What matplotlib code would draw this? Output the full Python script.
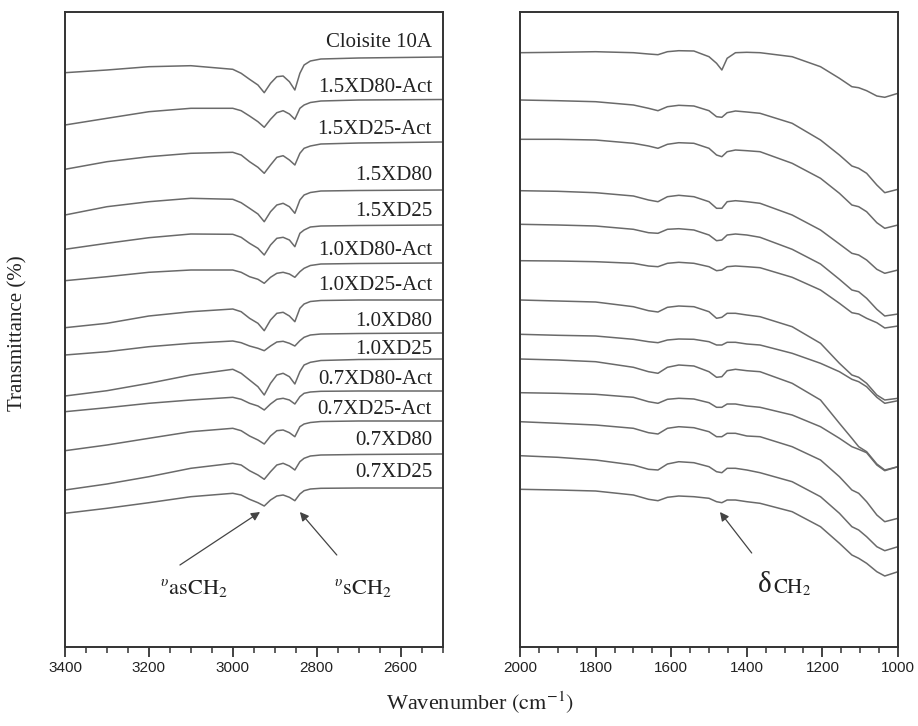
import matplotlib
matplotlib.use("Agg")
import matplotlib.pyplot as plt
from matplotlib.ticker import MultipleLocator

plt.rcParams['font.family'] = ['Liberation Serif', 'DejaVu Serif']
plt.rcParams['mathtext.fontset'] = 'stix'

# ---------------- data (vertical unit = offset level, larger = lower) -------------
labels = ['Cloisite 10A', '1.5XD80-Act', '1.5XD25-Act', '1.5XD80', '1.5XD25',
          '1.0XD80-Act', '1.0XD25-Act', '1.0XD80', '1.0XD25',
          '0.7XD80-Act', '0.7XD25-Act', '0.7XD80', '0.7XD25']

# C-H stretching region (left panel)
wn_left = [3400, 3300, 3200, 3100, 3000, 2980, 2960, 2940, 2925, 2910, 2895, 2880,
           2865, 2852, 2840, 2830, 2815, 2790, 2700, 2500]
L1 = [72.7, 70, 66.7, 65.7, 69.3, 73.3, 79.3, 85, 92.7, 83.3, 76.7, 76, 81.7, 90, 73.3, 65, 61, 59, 58, 57]
L2 = [125, 118.3, 111.7, 108.3, 108.3, 110.7, 116, 121.7, 127.3, 119.3, 112.7, 110.7, 114, 119.3, 108.3, 105, 102.5, 101, 100, 99.5]
L3 = [169.3, 161.7, 156.7, 153.3, 152.3, 155, 161.7, 167.3, 173.3, 165, 157.3, 155.7, 160, 165, 153.3, 148.3, 146, 144, 143, 142]
L4 = [215, 206.7, 201.7, 198.3, 199.3, 202.7, 208.3, 214, 221.7, 211.7, 205, 203.3, 206.7, 213.3, 200, 195, 192.5, 191, 190.5, 190]
L5 = [249.3, 243.3, 237.7, 234, 234.3, 237.3, 243.3, 248.3, 255, 245, 238.3, 237.3, 240, 246.7, 233.3, 230, 227, 226, 225.5, 225]
L6 = [280.7, 276.7, 272.3, 270, 270, 272.3, 276.7, 279.3, 283.3, 277.3, 273.3, 272.3, 274, 277.3, 271.7, 268.3, 265.5, 264, 263.5, 263]
L7 = [327.7, 323.3, 316, 311.7, 309, 311.7, 318.3, 323.3, 330.7, 320, 313.3, 312.3, 316, 321.7, 308.3, 304, 301.5, 300.5, 300, 300]
L8 = [355, 351.7, 346.7, 343.3, 341, 342.7, 346, 348.3, 350.7, 346, 342, 341.3, 343.3, 346, 340.7, 337.3, 335, 334, 333.5, 333]
L9 = [396, 390.7, 383.3, 375, 369.3, 373.3, 380, 386.7, 395, 383.3, 375, 373.3, 376.7, 384, 371.7, 365, 362.3, 360.5, 359.5, 359]
L10 = [411.7, 407.7, 403.3, 400, 397.3, 399.3, 403.3, 406, 410, 404, 399.3, 398.3, 400, 404, 396.7, 393.3, 392, 391.3, 391, 391]
L11 = [450.7, 445, 438.3, 431.7, 428.3, 430.7, 436, 440, 444, 436, 430.7, 430, 432.7, 436.7, 426.7, 424, 422.5, 421.5, 421, 421]
L12 = [490, 484, 476.7, 468.3, 463.3, 465, 470.7, 475, 479.3, 471.7, 465, 463.3, 466, 470, 461.7, 458.3, 456, 455, 454.5, 454]
L13 = [513.3, 508.3, 502.7, 496.7, 493.3, 495, 499.3, 502.7, 506, 500, 496, 495, 497.3, 500.7, 494, 490.7, 489, 488.3, 488, 488]

# fingerprint region (right panel)
wn_right = [2000, 1900, 1800, 1700, 1660, 1635, 1610, 1580, 1540, 1500, 1480, 1466, 1452,
            1430, 1400, 1365, 1280, 1205, 1155, 1122, 1104, 1083, 1056, 1035, 1000]
R1 = [52.7, 52.3, 51.7, 52.7, 54, 54.7, 51.7, 50.7, 51, 56.7, 63.3, 70, 58.3, 52.7, 52.3, 52.7, 56.7, 66.7, 78.3, 86.7, 87.7, 90.7, 96, 97.3, 93.3]
R2 = [100, 100.7, 101.7, 105, 108.3, 110.7, 106.7, 105.3, 106, 110.7, 116.7, 117.3, 112.7, 111, 112, 113.3, 123.3, 140, 155, 166, 168.3, 173.3, 185, 192.7, 189.3]
R3 = [139.3, 139.3, 140, 143.3, 146, 148.3, 144.3, 142.7, 143.3, 148.3, 155, 156.7, 151.7, 150, 150.7, 151.7, 163.3, 178.3, 193.3, 205, 206.7, 211.7, 222.7, 228.3, 225]
R4 = [190.7, 191.3, 192.7, 196, 200, 201.7, 196.7, 195.3, 196.7, 201.7, 208.3, 208.3, 201.7, 200.7, 201.7, 203.3, 215, 230, 244, 253.3, 255, 260, 269.3, 273.3, 270]
R5 = [224.3, 225, 226, 229.3, 232.7, 233.3, 229.3, 228.7, 230, 235, 240.7, 240, 235, 234, 235, 237.3, 249.3, 264, 279.3, 290, 291.7, 298.3, 309.3, 316, 314]
R6 = [260.7, 261, 261.7, 263.3, 266, 266.7, 263.3, 262.3, 263.3, 266.7, 270.7, 270, 266.7, 266, 266.7, 267.7, 277.3, 290, 303.3, 312.7, 314, 318.3, 322.7, 328, 326]
R7 = [300, 301, 302, 306.7, 310.7, 312, 307.3, 306, 306.7, 311.7, 318.3, 317.3, 313.3, 313.3, 315, 316.7, 326.7, 343.3, 363.3, 375, 377.3, 383.3, 395, 400, 398.3]
R8 = [334.3, 335.3, 336, 339.3, 341.7, 342.7, 340, 339, 339.3, 341.7, 345, 345, 342.3, 342.3, 344, 345, 353.3, 363.3, 371.7, 379.3, 381.7, 386.7, 397.3, 403.3, 400.7]
R9 = [359, 360, 361.7, 367.3, 371.7, 373.3, 367.3, 365, 366, 371.7, 377.3, 376.7, 370.7, 369.3, 370.7, 371.7, 383.3, 400, 423.3, 438.3, 446.7, 451.7, 464, 470, 466.7]
R10 = [392.7, 393.3, 394.3, 397.3, 401.7, 403.3, 399.3, 398.3, 399, 402.7, 407.3, 407.3, 404, 404, 406, 407.3, 415, 426.7, 438.3, 446.7, 449.3, 452.7, 465, 470.7, 466.7]
R11 = [421.7, 423.3, 425, 428.3, 432.7, 434, 428.3, 426.7, 427.7, 431.7, 436.7, 436.7, 433.3, 433.3, 436, 436.7, 446.7, 460, 476.7, 490, 493.3, 501.7, 515, 521.7, 518.3]
R12 = [455.7, 457.3, 460, 465, 469.3, 470, 464, 461.7, 462.7, 466.7, 471.7, 472.7, 468.3, 468.3, 470, 472.7, 481.7, 496.7, 513.3, 526.7, 530, 536.7, 546.7, 550.7, 546.7]
R13 = [489.3, 490, 491, 495, 499.3, 500.7, 497.3, 496, 496.7, 498.3, 501.7, 502.7, 500, 500, 501.7, 503.3, 511.7, 526.7, 543.3, 555, 558.3, 563.3, 571.7, 576, 571.7]

left_series = [L1, L2, L3, L4, L5, L6, L7, L8, L9, L10, L11, L12, L13]
right_series = [R1, R2, R3, R4, R5, R6, R7, R8, R9, R10, R11, R12, R13]

# layout: vertical levels of the sample labels
label_levels = [42.7, 87.3, 130, 176, 211.7, 250.7, 286, 321.7, 349, 379.3, 409.3, 440.7, 472.7]

# ---------------- figure ----------------
W, H = 918, 726
fig = plt.figure(figsize=(W / 100, H / 100), dpi=100)
axL = fig.add_axes([65 / W, 79 / H, 377.5 / W, 635 / H])
axR = fig.add_axes([520 / W, 79 / H, 378 / W, 635 / H])

line_kw = dict(color='#6a6a6a', lw=1.1)
for ys in left_series:
    axL.plot(wn_left, ys, **line_kw)
for ys in right_series:
    axR.plot(wn_right, ys, **line_kw)

tick_font = {'family': ['Liberation Sans Narrow', 'Liberation Sans', 'DejaVu Sans'], 'size': 11}
for ax, xl in ((axL, (3400, 2500)), (axR, (2000, 1000))):
    ax.set_xlim(*xl)
    ax.set_ylim(647, 12)
    ax.set_yticks([])
    ax.xaxis.set_major_locator(MultipleLocator(200))
    ax.xaxis.set_minor_locator(MultipleLocator(50))
    ax.tick_params(axis='x', which='major', direction='out', length=7, width=1.3,
                   color='#333333', pad=3)
    ax.tick_params(axis='x', which='minor', direction='out', length=4, width=1.1,
                   color='#333333')
    for s in ax.spines.values():
        s.set_color('#333333')
        s.set_linewidth(1.4)
    for t in ax.get_xticklabels():
        t.set_fontfamily(tick_font['family'])
        t.set_fontsize(tick_font['size'])
        t.set_color('#222222')

# sample labels
for lab, lv in zip(labels, label_levels):
    axL.text(2525, lv, lab, ha='right', va='center', fontsize=15, color='#222222')

# annotations left
arrow_kw = dict(arrowstyle='-|>', color='#444444', lw=0.9, mutation_scale=13,
                shrinkA=0, shrinkB=0)
axL.annotate('', xy=(2935, 512), xytext=(3126, 565), arrowprops=arrow_kw)
axL.annotate('', xy=(2840, 512), xytext=(2752, 555), arrowprops=arrow_kw)
axL.text(3092, 588, r'${}^{\upsilon}\mathrm{asCH}_2$', ha='center', va='center',
         fontsize=16, color='#222222')
axL.text(2689, 588, r'${}^{\upsilon}\mathrm{sCH}_2$', ha='center', va='center',
         fontsize=16, color='#222222')

# annotation right
axR.annotate('', xy=(1471, 512), xytext=(1387, 553), arrowprops=arrow_kw)
axR.text(1353, 585, 'δ', ha='center', va='center', fontsize=21, color='#222222')
axR.text(1330, 588, r'$\mathrm{CH}_2$', ha='left', va='center', fontsize=15,
         color='#222222')

# axis titles
fig.text(18 / W, 1 - 333 / H, 'Transmittance (%)', rotation=90, ha='center',
         va='center', fontsize=15, color='#222222')
fig.text(480 / W, 1 - 703 / H, r'Wavenumber $\left(\mathrm{cm}^{-1}\right)$',
         ha='center', va='center', fontsize=16, color='#222222')

fig.savefig('out.png', dpi=100)
